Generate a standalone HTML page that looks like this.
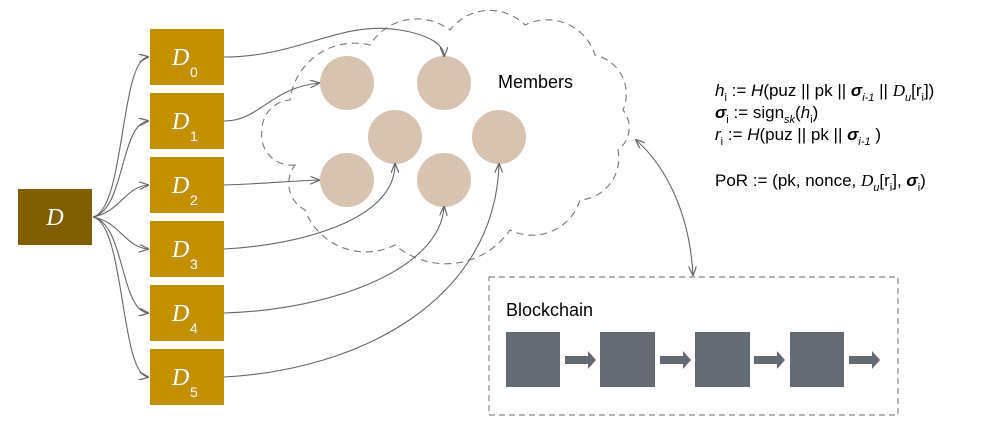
<!DOCTYPE html>
<html><head><meta charset="utf-8"><style>
body{margin:0;background:#fff;}
svg{display:block;font-family:"Liberation Sans",sans-serif;}
.m{font-family:"Liberation Serif",serif;font-style:italic;}
</style></head><body>
<svg width="986" height="435" viewBox="0 0 986 435" xmlns="http://www.w3.org/2000/svg">
<defs>
<marker id="a" markerWidth="10" markerHeight="8" refX="9" refY="4" orient="auto" markerUnits="userSpaceOnUse"><path d="M0,0 L10,4 L0,8" fill="none" stroke="#666" stroke-width="1.2"/></marker>
<marker id="as" markerWidth="10" markerHeight="8" refX="1" refY="4" orient="auto" markerUnits="userSpaceOnUse"><path d="M10,0 L0,4 L10,8" fill="none" stroke="#666" stroke-width="1.2"/></marker>
</defs>
<!-- cloud -->
<path d="M295,165 A30 30 0 0 1 262,130 A30 30 0 0 1 290,100 A65 65 0 0 1 370,45 A55 55 0 0 1 450,30 A50 50 0 0 1 525,25 A50 50 0 0 1 595,55 A40 40 0 0 1 623,110 A28 28 0 0 1 618,150 A42 42 0 0 1 580,200 A50 50 0 0 1 510,230 A78 78 0 0 1 395,245 A65 65 0 0 1 305,210 A30 30 0 0 1 295,165 Z" fill="none" stroke="#777" stroke-width="1.1" stroke-dasharray="7,5"/>
<!-- circles -->
<g fill="#d8c3b1">
<circle cx="347" cy="83" r="27"/><circle cx="444" cy="83" r="27"/>
<circle cx="395" cy="137" r="27"/><circle cx="499" cy="137" r="27"/>
<circle cx="347" cy="180" r="27"/><circle cx="444" cy="180" r="27"/>
</g>
<text x="498" y="88" font-size="18" fill="#000">Members</text>
<!-- D boxes -->
<rect x="18" y="189" width="74" height="56" fill="#7f5f00"/>
<text x="55" y="225" class="m" font-size="24" fill="#fff" text-anchor="middle">D</text>
<g fill="#c39100">
<rect x="150" y="29" width="74" height="56"/><rect x="150" y="93" width="74" height="56"/>
<rect x="150" y="157" width="74" height="56"/><rect x="150" y="221" width="74" height="56"/>
<rect x="150" y="285" width="74" height="56"/><rect x="150" y="349" width="74" height="56"/>
</g>
<g fill="#fff">
<text x="172" y="65" class="m" font-size="24">D</text><text x="190" y="77" font-size="14">0</text>
<text x="172" y="129" class="m" font-size="24">D</text><text x="190" y="141" font-size="14">1</text>
<text x="172" y="193" class="m" font-size="24">D</text><text x="190" y="205" font-size="14">2</text>
<text x="172" y="257" class="m" font-size="24">D</text><text x="190" y="269" font-size="14">3</text>
<text x="172" y="321" class="m" font-size="24">D</text><text x="190" y="333" font-size="14">4</text>
<text x="172" y="385" class="m" font-size="24">D</text><text x="190" y="397" font-size="14">5</text>
</g>
<!-- connectors -->
<g fill="none" stroke="#666" stroke-width="1.1" marker-end="url(#a)">
<path d="M93,217 C125,210 120,60 148,57"/>
<path d="M93,217 C125,210 120,124 148,121"/>
<path d="M93,217 C120,212 125,187 148,185"/>
<path d="M93,217 C120,222 125,247 148,249"/>
<path d="M93,217 C125,224 120,310 148,313"/>
<path d="M93,217 C125,224 120,374 148,377"/>
<path d="M224,57 C300,57 340,20 400,30 C430,35 444,45 444,56"/>
<path d="M224,121 C260,121 270,88 319,83"/>
<path d="M224,185 C260,184 290,181 319,180"/>
<path d="M224,249 C300,245 395,220 395,164"/>
<path d="M224,313 C330,310 440,270 444,207"/>
<path d="M224,377 C360,370 495,300 499,164"/>
<path d="M636,140 C670,170 690,220 693,275" marker-start="url(#as)"/>
</g>
<!-- formulas -->
<g font-size="17" fill="#000">
<text x="715" y="96"><tspan font-style="italic">h</tspan><tspan font-size="11" dy="5">i</tspan><tspan dy="-5"> := </tspan><tspan font-style="italic">H</tspan>(puz || pk || <tspan font-style="italic" font-weight="bold">σ</tspan><tspan font-size="11" font-style="italic" dy="5">i-1</tspan><tspan dy="-5"> || </tspan><tspan class="m">D</tspan><tspan font-size="11" font-style="italic" dy="5">u</tspan><tspan dy="-5">[r</tspan><tspan font-size="11" dy="5">i</tspan><tspan dy="-5">])</tspan></text>
<text x="715" y="118"><tspan font-style="italic" font-weight="bold">σ</tspan><tspan font-size="11" dy="5">i</tspan><tspan dy="-5"> := sign</tspan><tspan font-size="11" font-style="italic" dy="5">sk</tspan><tspan dy="-5">(</tspan><tspan font-style="italic">h</tspan><tspan font-size="11" dy="5">i</tspan><tspan dy="-5">)</tspan></text>
<text x="715" y="140"><tspan font-style="italic">r</tspan><tspan font-size="11" dy="5">i</tspan><tspan dy="-5"> := </tspan><tspan font-style="italic">H</tspan>(puz || pk || <tspan font-style="italic" font-weight="bold">σ</tspan><tspan font-size="11" font-style="italic" dy="5">i-1</tspan><tspan dy="-5"> )</tspan></text>
<text x="715" y="186">PoR := (pk, nonce, <tspan class="m">D</tspan><tspan font-size="11" font-style="italic" dy="5">u</tspan><tspan dy="-5">[r</tspan><tspan font-size="11" dy="5">i</tspan><tspan dy="-5">], </tspan><tspan font-style="italic" font-weight="bold">σ</tspan><tspan font-size="11" dy="5">i</tspan><tspan dy="-5">)</tspan></text>
</g>
<!-- blockchain -->
<rect x="489" y="277" width="409" height="138" fill="none" stroke="#888" stroke-width="1.2" stroke-dasharray="6,4"/>
<text x="506" y="316" font-size="18" fill="#000">Blockchain</text>
<g fill="#646a72">
<rect x="506" y="332" width="54" height="55"/><rect x="600" y="332" width="55" height="55"/>
<rect x="695" y="332" width="55" height="55"/><rect x="790" y="332" width="54" height="55"/>
<path d="M565,356 H588 V351 L596,360 L588,369 V364 H565 Z"/>
<path d="M660,356 H683 V351 L691,360 L683,369 V364 H660 Z"/>
<path d="M754,356 H777 V351 L785,360 L777,369 V364 H754 Z"/>
<path d="M849,356 H872 V351 L880,360 L872,369 V364 H849 Z"/>
</g>
</svg>
</body></html>
